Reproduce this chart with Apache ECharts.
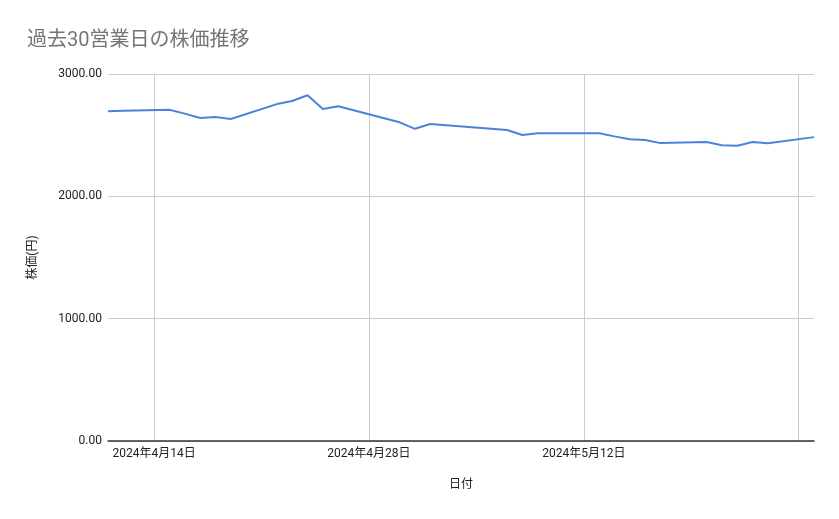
<!DOCTYPE html>
<html>
<head>
<meta charset="utf-8">
<script src="https://cdn.jsdelivr.net/npm/echarts@6/dist/echarts.min.js"></script>
<style>
html,body{margin:0;padding:0;background:#fff;}
#c{width:839px;height:519px;}
</style>
</head>
<body>
<div id="c"></div>
<script>
const titleText = '過去30営業日の株価推移';
const xAxisName = '日付';
const yAxisName = '株価(円)';
const dates = ['2024-04-11','2024-04-12','2024-04-15','2024-04-16','2024-04-17','2024-04-18','2024-04-19','2024-04-22','2024-04-23','2024-04-24','2024-04-25','2024-04-26','2024-04-30','2024-05-01','2024-05-02','2024-05-07','2024-05-08','2024-05-09','2024-05-10','2024-05-13','2024-05-14','2024-05-15','2024-05-16','2024-05-17','2024-05-20','2024-05-21','2024-05-22','2024-05-23','2024-05-24','2024-05-27'];
const prices = [2695,2700,2708,2676,2640,2648,2632,2754,2779,2826,2714,2736,2605,2552,2591,2542,2501,2515,2515,2515,2490,2466,2460,2435,2444,2417,2413,2444,2433,2484];
const gridDates = ['2024-04-14','2024-04-28','2024-05-12','2024-05-26'];
const labelDates = ['2024-04-14','2024-04-28','2024-05-12'];
const yTicks = [0,1000,2000,3000];

function toTs(s){ return Date.parse(s + 'T00:00:00Z'); }
function fmtDate(v){ const d = new Date(v); return d.getUTCFullYear()+'年'+(d.getUTCMonth()+1)+'月'+d.getUTCDate()+'日'; }

const font = "Roboto, 'Noto Sans CJK JP', sans-serif";
const chart = echarts.init(document.getElementById('c'), null, {renderer:'canvas'});
chart.setOption({
  animation:false,
  backgroundColor:'#ffffff',
  title:{
    text:titleText, left:22, top:26,
    textStyle:{fontFamily:font, fontSize:20, fontWeight:'normal', color:'#757575'}
  },
  grid:{left:108, right:25, top:74, bottom:78},
  xAxis:{
    type:'value',
    min:toTs(dates[0]), max:toTs(dates[dates.length-1]),
    name:xAxisName, nameLocation:'middle', nameGap:38,
    nameTextStyle:{fontFamily:font, fontSize:12, color:'#222'},
    axisLine:{show:true, lineStyle:{color:'#333', width:1.5}},
    axisTick:{show:false, customValues:gridDates.map(toTs)},
    axisLabel:{
      customValues:labelDates.map(toTs), margin:7,
      fontFamily:font, fontSize:12, color:'#222',
      formatter:function(v){ return fmtDate(v); }
    },
    splitLine:{show:true, lineStyle:{color:'#cccccc', width:1}}
  },
  yAxis:{
    type:'value', min:yTicks[0], max:yTicks[yTicks.length-1], interval:1000,
    name:yAxisName, nameLocation:'middle', nameGap:69, nameRotate:90,
    nameTextStyle:{fontFamily:font, fontSize:12, color:'#222'},
    axisLine:{show:false}, axisTick:{show:false},
    axisLabel:{fontFamily:font, fontSize:12, color:'#222', margin:6,
      formatter:function(v){ return v.toFixed(2); }},
    splitLine:{show:true, lineStyle:{color:'#cccccc', width:1}}
  },
  series:[{
    type:'line',
    data:dates.map((d,i)=>[toTs(d), prices[i]]),
    showSymbol:false, symbol:'none',
    lineStyle:{color:'#4a84d9', width:2},
    itemStyle:{color:'#4a84d9'}
  }]
});
</script>
</body>
</html>
